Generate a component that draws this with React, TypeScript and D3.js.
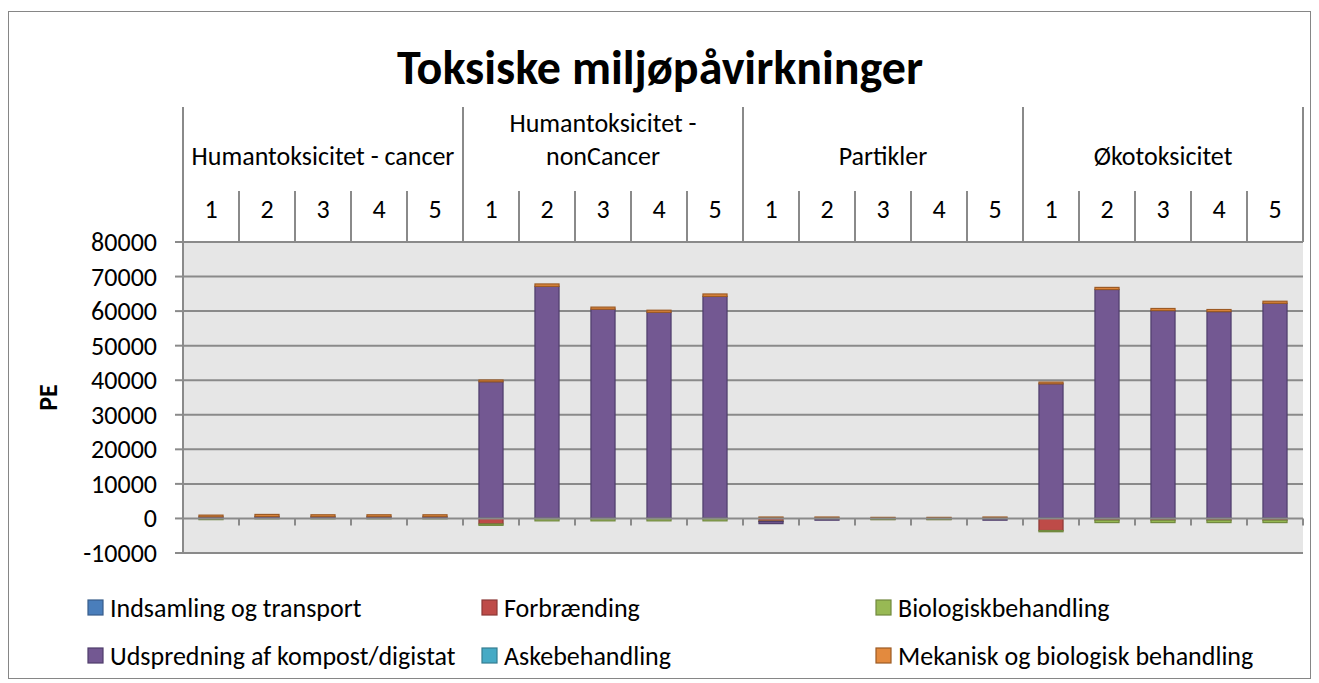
import React from "react";
import * as d3 from "d3";

const groups = ["Humantoksicitet - cancer", "Humantoksicitet -\nnonCancer", "Partikler", "Økotoksicitet"];
const scenarios = ["1", "2", "3", "4", "5"];

const seriesNames = [
  "Indsamling og transport",
  "Forbrænding",
  "Biologiskbehandling",
  "Udspredning af kompost/digistat",
  "Askebehandling",
  "Mekanisk og biologisk behandling",
];

// values per column (4 groups x 5 scenarios)
const indsamling = [100, 100, 100, 100, 100, 150, 150, 150, 150, 150, 100, 100, 100, 100, 100, 150, 150, 150, 150, 150];
const forbraending = [-50, 0, 0, 0, 0, -1600, -100, -100, -100, -100, -800, 0, -300, -300, 0, -3500, -500, -500, -500, -500];
const biologisk = [-300, -100, -100, -100, -100, -400, -600, -600, -600, -600, -100, -100, -50, -50, -100, -350, -700, -700, -700, -700];
const udspredning = [350, 450, 400, 400, 400, 39400, 67000, 60400, 59500, 64100, -600, -400, 0, 0, -400, 38800, 66100, 60000, 59700, 62100];
const aske = [10, 10, 10, 10, 10, 10, 10, 10, 10, 10, 10, 10, 10, 10, 10, 10, 10, 10, 10, 10];
const mekanisk = [500, 600, 550, 550, 550, 500, 700, 600, 600, 700, 300, 300, 200, 200, 300, 500, 600, 600, 600, 600];

const yTicks = [-10000, 0, 10000, 20000, 30000, 40000, 50000, 60000, 70000, 80000];

const fills = ["#4a7ebb", "#be4b48", "#98b954", "#735892", "#46aac5", "#e38a3e"];
const strokes = ["#385d8a", "#8c3836", "#71893f", "#4f3d6b", "#357d91", "#9c5a24"];

const FONT = "Carlito, Lato, sans-serif";
const FS = 26;

export default function App() {
  const W = 1319;
  const H = 683;
  const left = 183;
  const right = 1303;
  const top = 242;
  const bottom = 553;
  const headTop = 107;
  const numTop = 191;

  const cols = groups.flatMap((g, gi) => scenarios.map((s) => `${gi}-${s}`));
  const x = d3.scaleBand().domain(cols).range([left, right]).paddingInner(0.57).paddingOuter(0.285);
  const xOuter = d3.scaleBand().domain(cols).range([left, right]);
  const y = d3.scaleLinear().domain([-10000, 80000]).range([bottom, top]);

  const allSeries = [indsamling, forbraending, biologisk, udspredning, aske, mekanisk];
  const rows = cols.map((c, i) => {
    const r: any = { col: c };
    seriesNames.forEach((n, si) => (r[n] = allSeries[si][i]));
    return r;
  });
  const stacked = d3.stack().keys(seriesNames).offset(d3.stackOffsetDiverging)(rows);

  const colW = xOuter.step();
  const groupW = colW * scenarios.length;

  return (
    <svg width={W} height={H} style={{ position: "absolute", left: 0, top: 0 }} fontFamily={FONT}>
      <rect x={8.5} y={11.5} width={1302} height={667} fill="#fff" stroke="#868686" strokeWidth={1} />
      <text x={660} y={84} textAnchor="middle" fontSize={48} fontWeight="bold" fill="#000">
        Toksiske miljøpåvirkninger
      </text>

      {/* plot area */}
      <rect x={left} y={top} width={right - left} height={bottom - top} fill="#e6e6e6" />
      {yTicks.filter((t) => t !== 0).map((t) => (
        <line key={t} x1={left} x2={right} y1={y(t)} y2={y(t)} stroke="#8a8a8a" strokeWidth={2} />
      ))}

      {/* bars */}
      {stacked.map((s, si) => (
        <g key={s.key} fill={fills[si]} stroke={strokes[si]} strokeWidth={1.2}>
          {s.map((d, i) => {
            const h = Math.abs(y(d[0]) - y(d[1]));
            if (h < 0.05) return null;
            return (
              <rect
                key={i}
                x={x(cols[i])}
                y={Math.min(y(d[0]), y(d[1]))}
                width={x.bandwidth()}
                height={h}
              />
            );
          })}
        </g>
      ))}

      {/* zero axis */}
      <line x1={left} x2={right} y1={y(0)} y2={y(0)} stroke="#8a8a8a" strokeWidth={2} />
      {d3.range(cols.length + 1).map((i) => (
        <line key={i} x1={left + i * colW} x2={left + i * colW} y1={y(0)} y2={y(0) + 7} stroke="#8a8a8a" strokeWidth={2} />
      ))}

      {/* y axis */}
      <line x1={left} x2={left} y1={top} y2={bottom} stroke="#8a8a8a" strokeWidth={2} />
      {yTicks.map((t) => (
        <g key={t}>
          <line x1={left - 8} x2={left} y1={y(t)} y2={y(t)} stroke="#8a8a8a" strokeWidth={2} />
          <text x={157} y={y(t) + 9} textAnchor="end" fontSize={FS} fill="#000">
            {t}
          </text>
        </g>
      ))}
      <text transform={`translate(57,${(top + bottom) / 2}) rotate(-90)`} textAnchor="middle" fontSize={FS} fontWeight="bold">
        PE
      </text>

      {/* category header */}
      {d3.range(groups.length + 1).map((g) => (
        <line key={g} x1={left + g * groupW} x2={left + g * groupW} y1={headTop} y2={top} stroke="#8a8a8a" strokeWidth={2} />
      ))}
      {cols.map((c, i) =>
        i % scenarios.length === 0 ? null : (
          <line key={c} x1={xOuter(c)} x2={xOuter(c)} y1={numTop} y2={top} stroke="#8a8a8a" strokeWidth={2} />
        )
      )}
      {cols.map((c, i) => (
        <text key={c} x={xOuter(c)! + colW / 2} y={218} textAnchor="middle" fontSize={FS}>
          {scenarios[i % scenarios.length]}
        </text>
      ))}
      {groups.map((g, gi) => {
        const lines = g.split("\n");
        const cx = left + gi * groupW + groupW / 2;
        return (
          <text key={g} x={cx} textAnchor="middle" fontSize={FS}>
            {lines.map((l, li) => (
              <tspan key={li} x={cx} y={165 - (lines.length - 1 - li) * 33}>
                {l}
              </tspan>
            ))}
          </text>
        );
      })}

      {/* legend */}
      {seriesNames.map((n, i) => {
        const colX = [88, 482, 876][i % 3];
        const rowY = [600, 648][Math.floor(i / 3)];
        return (
          <g key={n}>
            <rect x={colX} y={rowY} width={15} height={15} fill={fills[i]} stroke={strokes[i]} strokeWidth={1.2} />
            <text x={colX + 22} y={rowY + 17} fontSize={FS}>
              {n}
            </text>
          </g>
        );
      })}
    </svg>
  );
}
